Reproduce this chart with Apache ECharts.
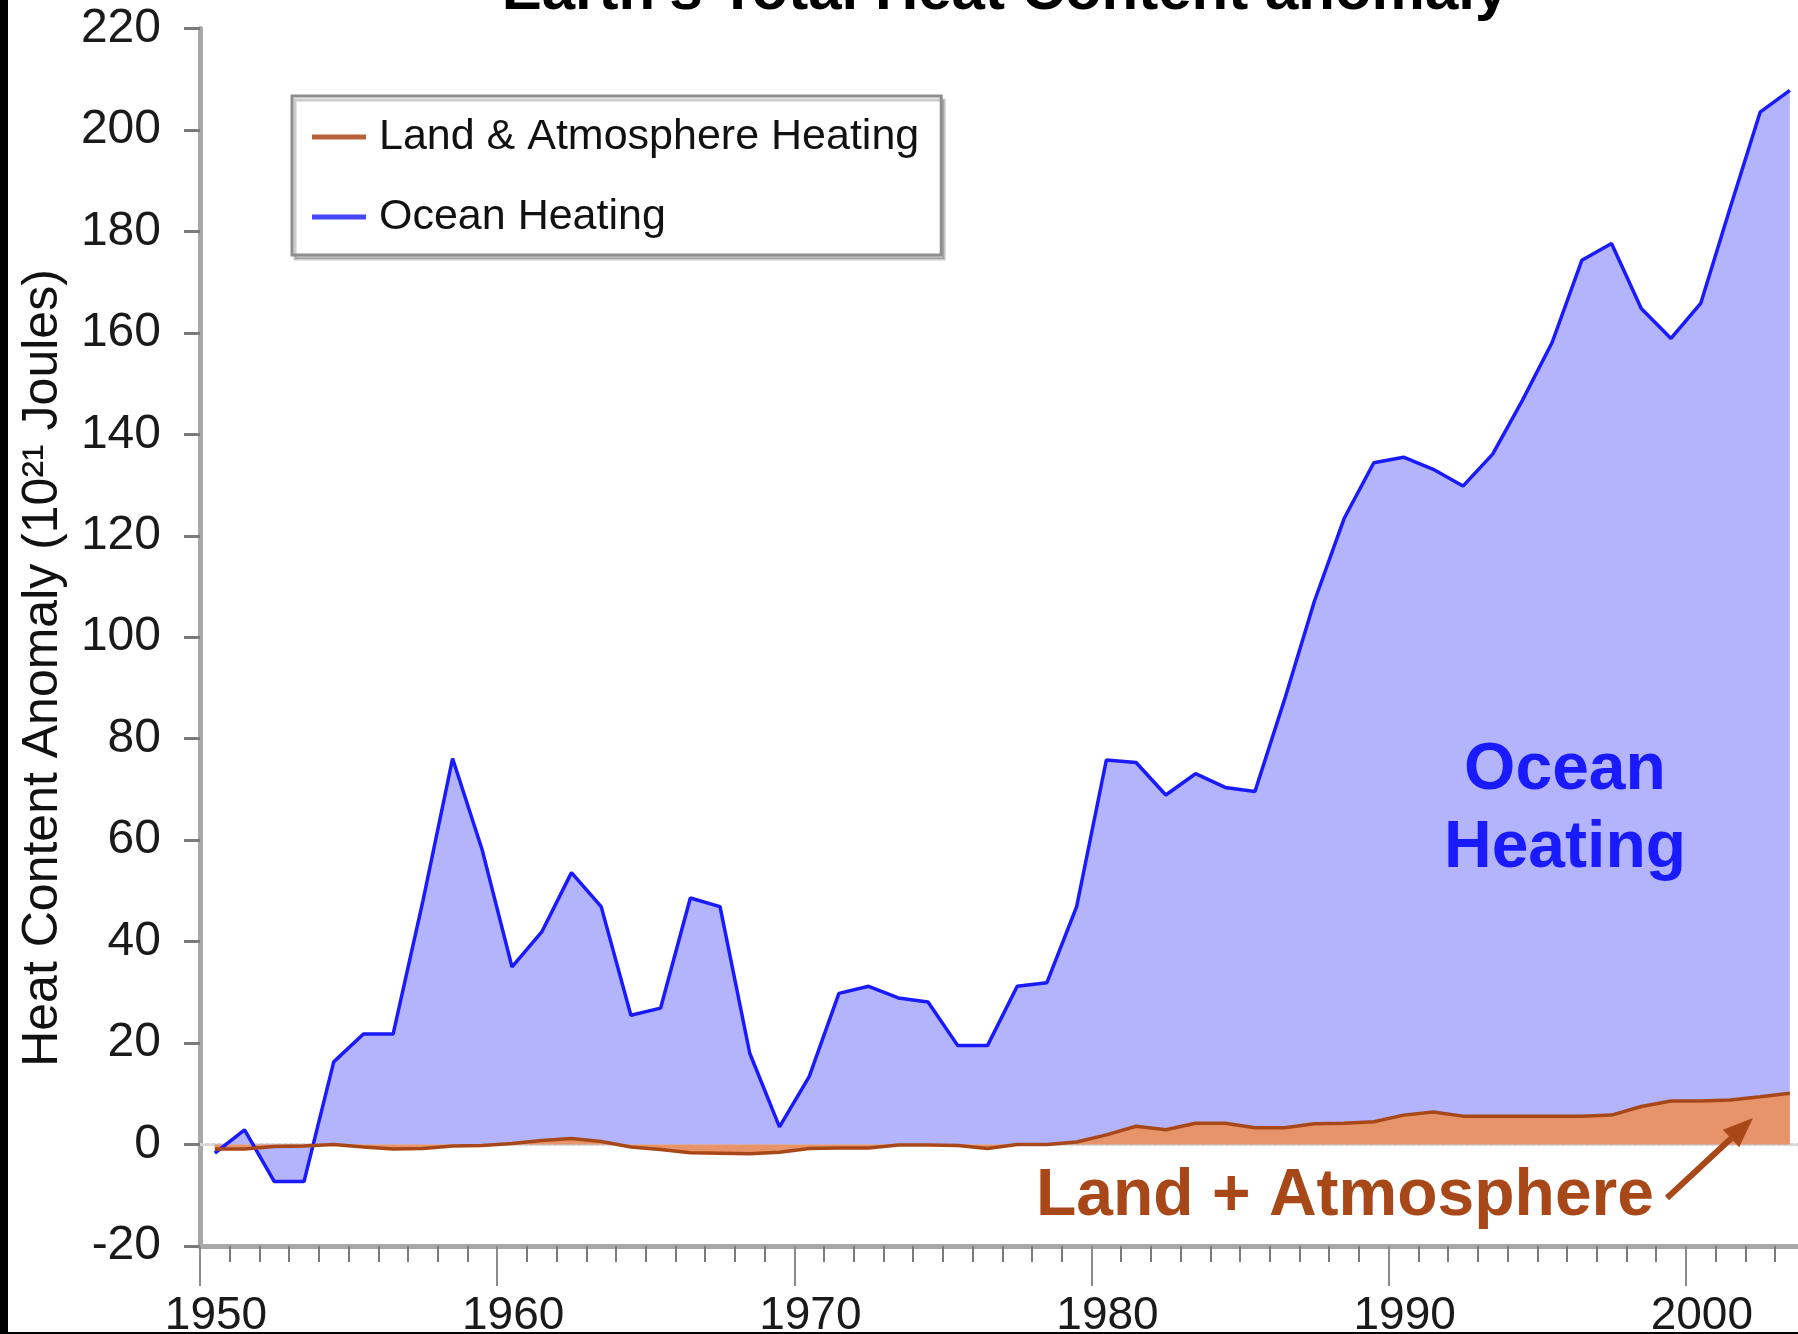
<!DOCTYPE html>
<html>
<head>
<meta charset="utf-8">
<title>Earth's Total Heat Content anomaly</title>
<script src="https://cdn.jsdelivr.net/npm/echarts@6/dist/echarts.min.js"></script>
<style>
  html, body { margin: 0; padding: 0; background: #fff; }
  #chart { width: 1798px; height: 1334px; }
</style>
</head>
<body>
<div id="chart"></div>
<script>
// mid-year points, 10^21 J
const years = [
  1950.5, 1951.5, 1952.5, 1953.5, 1954.5, 1955.5, 1956.5, 1957.5, 1958.5, 1959.5,
  1960.5, 1961.5, 1962.5, 1963.5, 1964.5, 1965.5, 1966.5, 1967.5, 1968.5, 1969.5,
  1970.5, 1971.5, 1972.5, 1973.5, 1974.5, 1975.5, 1976.5, 1977.5, 1978.5, 1979.5,
  1980.5, 1981.5, 1982.5, 1983.5, 1984.5, 1985.5, 1986.5, 1987.5, 1988.5, 1989.5,
  1990.5, 1991.5, 1992.5, 1993.5, 1994.5, 1995.5, 1996.5, 1997.5, 1998.5, 1999.5,
  2000.5, 2001.5, 2002.5, 2003.5
]
const oceanHeating = [
  -1.7, 2.9, -7.3, -7.3, 16.3, 21.8, 21.8, 48, 76.1, 58,
  35.0, 41.9, 53.6, 46.9, 25.5, 26.9, 48.6, 46.9, 18.0, 3.5,
  13.4, 29.8, 31.2, 28.9, 28.1, 19.5, 19.5, 31.2, 31.9, 46.9,
  75.8, 75.3, 68.9, 73.1, 70.4, 69.6, 87.8, 107.1, 123.4, 134.4,
  135.5, 133.1, 129.8, 136.1, 146.7, 158.1, 174.3, 177.6, 164.8, 158.9,
  165.8, 184.8, 203.5, 207.8
]
const landAtmosphere = [
  -0.9, -0.9, -0.4, -0.3, 0, -0.5, -0.9, -0.8, -0.3, -0.2,
  0.2, 0.8, 1.2, 0.6, -0.5, -1.0, -1.6, -1.7, -1.8, -1.5,
  -0.8, -0.7, -0.7, -0.1, -0.1, -0.2, -0.8, 0, 0, 0.5,
  1.9, 3.6, 2.9, 4.2, 4.2, 3.3, 3.3, 4.1, 4.2, 4.5,
  5.8, 6.4, 5.6, 5.6, 5.6, 5.6, 5.6, 5.8, 7.5, 8.6,
  8.6, 8.8, 9.4, 10.1
]
const seriesNames = ['Land & Atmosphere Heating', 'Ocean Heating']

const FONT = 'Liberation Sans, Arial, sans-serif'

const chart = echarts.init(document.getElementById('chart'))

// arrow pointing to the land area
const tail = [1667, 1198]
const tip = [1753, 1118]
const dx = tip[0] - tail[0], dy = tip[1] - tail[1]
const len = Math.sqrt(dx * dx + dy * dy)
const ux = dx / len, uy = dy / len
const headLen = 30, headHalf = 12
const base = [tip[0] - ux * headLen, tip[1] - uy * headLen]

const option = {
  backgroundColor: '#fff',
  animation: false,
  // the picture is cropped at the right: the axis runs on past the edge
  grid: { left: 200, right: -185, top: 28.5, bottom: 88, containLabel: false, outerBoundsMode: 'none' },
  legend: {
    orient: 'vertical',
    left: 292,
    top: 96,
    padding: [16, 22, 13, 20],
    itemGap: 30,
    itemWidth: 54,
    itemHeight: 5,
    backgroundColor: '#fff',
    borderColor: '#8e8e8e',
    borderWidth: 3,
    borderRadius: 0,
    shadowColor: 'rgba(0,0,0,0.2)',
    shadowOffsetX: 3,
    shadowOffsetY: 4,
    shadowBlur: 0,
    selectedMode: false,
    textStyle: { fontSize: 43, lineHeight: 50, color: '#111', fontFamily: FONT, padding: [0, 0, 0, 8] },
    data: [
      { name: seriesNames[0], icon: 'rect', itemStyle: { color: '#b8603a' } },
      { name: seriesNames[1], icon: 'rect', itemStyle: { color: '#4646ff' } }
    ]
  },
  xAxis: [
    {
      type: 'value',
      min: 1950,
      max: 2010,
      interval: 10,
      position: 'bottom',
      axisLine: { show: true, onZero: false, lineStyle: { color: '#a8a8a8', width: 5 } },
      axisTick: { show: true, length: 40, lineStyle: { color: '#8a8a8a', width: 2 } },
      minorTick: { show: true, splitNumber: 10, length: 16, lineStyle: { color: '#7a7a7a', width: 2 } },
      // labels sit a little right of their ticks in the original
      axisLabel: { fontSize: 46, margin: 47, color: '#1a1a1a', fontFamily: FONT, padding: [0, 0, 0, 32], formatter: v => String(v) },
      splitLine: { show: false }
    },
    {
      type: 'value',
      min: 1950,
      max: 2010,
      position: 'top',
      axisLine: { show: true, lineStyle: { color: '#d6d6d6', width: 3, type: 'dotted' } },
      axisTick: { show: false },
      axisLabel: { show: false },
      splitLine: { show: false }
    }
  ],
  yAxis: {
    type: 'value',
    min: -20,
    max: 220,
    interval: 20,
    axisLine: { show: true, onZero: false, lineStyle: { color: '#a8a8a8', width: 5 } },
    axisTick: { show: true, length: 16, lineStyle: { color: '#7a7a7a', width: 3 } },
    axisLabel: { fontSize: 48, margin: 39, color: '#1a1a1a', fontFamily: FONT },
    splitLine: { show: false }
  },
  series: [
    {
      name: seriesNames[1],
      type: 'line',
      symbol: 'none',
      data: years.map((y, i) => [y, oceanHeating[i]]),
      lineStyle: { color: '#1a1aff', width: 3.5 },
      itemStyle: { color: '#1a1aff' },
      areaStyle: { color: '#b3b4fc', opacity: 1 }
    },
    {
      name: seriesNames[0],
      type: 'line',
      symbol: 'none',
      data: years.map((y, i) => [y, landAtmosphere[i]]),
      lineStyle: { color: '#a84818', width: 3.5 },
      itemStyle: { color: '#a84818' },
      areaStyle: { color: '#e8946a', opacity: 1 }
    }
  ],
  graphic: [
    // title, cut by the top edge
    {
      type: 'text', x: 1005, y: -8, z: 10,
      style: { text: "Earth's Total Heat Content anomaly", font: 'bold 60px ' + FONT, fill: '#000', align: 'center', verticalAlign: 'middle' }
    },
    // y axis title
    {
      type: 'text', x: 43, y: 668, rotation: Math.PI / 2, z: 10,
      style: { text: 'Heat Content Anomaly (10²¹ Joules)', font: '50px ' + FONT, fill: '#111', align: 'center', verticalAlign: 'middle' }
    },
    // annotations
    {
      type: 'text', x: 1565, y: 771, z: 10,
      style: { text: 'Ocean', font: 'bold 66px ' + FONT, fill: '#1a1aff', align: 'center', verticalAlign: 'middle' }
    },
    {
      type: 'text', x: 1565, y: 849, z: 10,
      style: { text: 'Heating', font: 'bold 66px ' + FONT, fill: '#1a1aff', align: 'center', verticalAlign: 'middle' }
    },
    {
      type: 'text', x: 1345, y: 1197, z: 10,
      style: { text: 'Land + Atmosphere', font: 'bold 66px ' + FONT, fill: '#a84818', align: 'center', verticalAlign: 'middle' }
    },
    {
      type: 'line', z: 10,
      shape: { x1: tail[0], y1: tail[1], x2: base[0], y2: base[1] },
      style: { stroke: '#a84818', lineWidth: 6 }
    },
    {
      type: 'polygon', z: 10,
      shape: {
        points: [
          tip,
          [base[0] - uy * headHalf, base[1] + ux * headHalf],
          [base[0] + uy * headHalf, base[1] - ux * headHalf]
        ]
      },
      style: { fill: '#a84818' }
    },
    // black frame edges of the scan
    { type: 'rect', z: 20, shape: { x: 0, y: 0, width: 8, height: 1334 }, style: { fill: '#000' } },
    { type: 'rect', z: 20, shape: { x: 0, y: 1332, width: 1798, height: 2 }, style: { fill: '#000' } }
  ]
}

chart.setOption(option)
</script>
</body>
</html>
